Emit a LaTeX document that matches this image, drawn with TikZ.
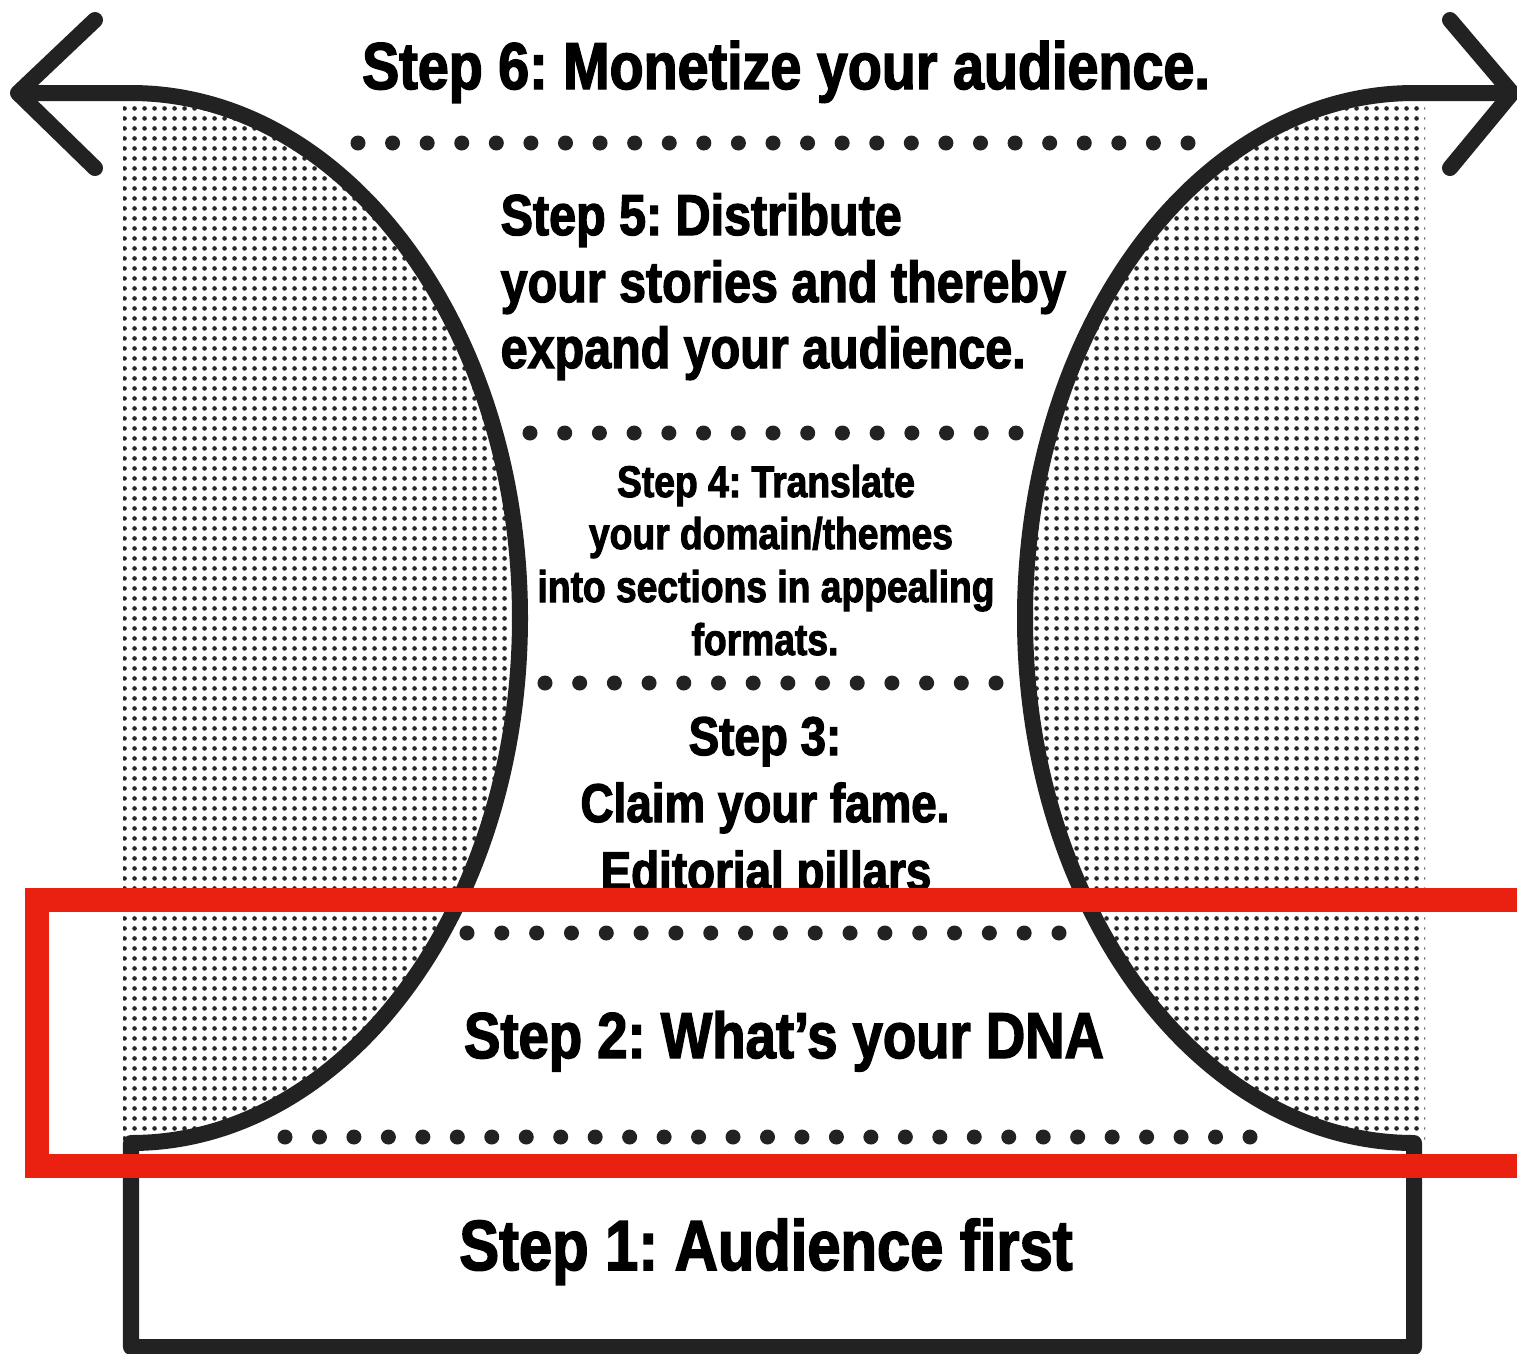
\documentclass[tikz,border=0pt]{standalone}
\usepackage{fontspec}
\newfontfamily\stepfont{Liberation Sans}[UprightFont=* Bold,FakeStretch=0.84,FakeBold=2.2]
\usetikzlibrary{patterns}
\definecolor{inkgray}{HTML}{222222}
\definecolor{markred}{HTML}{EA2110}
\pgfdeclarepatternformonly{halfdots}{\pgfpointorigin}{\pgfqpoint{2.85pt}{2.85pt}}%
  {\pgfqpoint{2.85pt}{2.85pt}}%
  {\pgfpathcircle{\pgfqpoint{1.42pt}{1.42pt}}{0.72pt}\pgfusepath{fill}}
\tikzset{
  outline/.style={draw=inkgray,line width=0.16cm,line join=round},
  arrowtip/.style={draw=inkgray,line width=0.16cm,line cap=round,line join=round},
  halftone/.style={pattern=halfdots,pattern color=black!85},
  stepline/.style={inner sep=0pt,anchor=base,text=black},
  stepleft/.style={inner sep=0pt,anchor=base west,text=black},
}
% one row of big dots: x start, x end, y, number of gaps
\newcommand{\dotrow}[4]{%
  \foreach \i in {0,...,#4}
    \fill[inkgray] ({#1+(#2-#1)/#4*\i},#3) circle[radius=0.075cm];
}
\newcommand{\sz}[1]{\stepfont\frenchspacing\fontsize{#1}{#1}\selectfont}

\begin{document}
\begin{tikzpicture}[x=0.01cm,y=-0.01cm]
\useasboundingbox (0,0) rectangle (1517,1353);
\coordinate (ltip) at (18,93);
\coordinate (rtip) at (1512,93);
%
\begin{scope}
\clip (123,103) rectangle (1425,1143);
\fill[halftone] (123,1143) -- (131,1143)
  arc[start angle=90,end angle=-90,x radius=389,y radius=525] -- (123,93) -- cycle;
\fill[halftone] (1425,1143) -- (1414,1143)
  arc[start angle=90,end angle=270,x radius=389,y radius=525] -- (1425,93) -- cycle;
\end{scope}
%
\draw[outline] (ltip) -- (131,93)
  arc[start angle=-90,end angle=90,x radius=389,y radius=525]
  -- (131,1347) -- (1414,1347) -- (1414,1143)
  arc[start angle=90,end angle=270,x radius=389,y radius=525] -- (rtip);
\draw[arrowtip] (95,20) -- (ltip) -- (95,168);
\draw[arrowtip] (1450,20) -- (rtip) -- (1450,168);
%
\dotrow{358}{1188}{143}{24}
\dotrow{530}{1016}{433}{14}
\dotrow{545}{996}{683}{13}
\dotrow{467}{1059}{933}{17}
\dotrow{285}{1250}{1137}{28}
%
\node[stepline,font=\sz{18.85}] (s6) at (786,89) {Step 6: Monetize your audience.};
\node[stepleft,font=\sz{16.4}] (s5a) at (500,235) {Step 5: Distribute};
\node[stepleft,font=\sz{16.4}] (s5b) at (500,302) {your stories and thereby};
\node[stepleft,font=\sz{16.4}] (s5c) at (500,368) {expand your audience.};
\node[stepline,font=\sz{12.6}] (s4a) at (766,497) {Step 4: Translate};
\node[stepline,font=\sz{12.6}] (s4b) at (771,549) {your domain/themes};
\node[stepline,font=\sz{12.6}] (s4c) at (766,602) {into sections in appealing};
\node[stepline,font=\sz{12.6}] (s4d) at (765,655) {formats.};
\node[stepline,font=\sz{15.5}] (s3a) at (765,755) {Step 3:};
\node[stepline,font=\sz{15.5}] (s3b) at (765,822) {Claim your fame.};
\node[stepline,font=\sz{15.5}] (s3c) at (766,890) {Editorial pillars};
\node[stepline,font=\sz{18.45}] (s2) at (784,1058) {Step 2: What’s your DNA};
\node[stepline,font=\sz{20.2}] (s1) at (766,1270) {Step 1: Audience first};
%
\draw[markred,line width=0.24cm] (37,900) rectangle (1545,1166);
\end{tikzpicture}
\end{document}
